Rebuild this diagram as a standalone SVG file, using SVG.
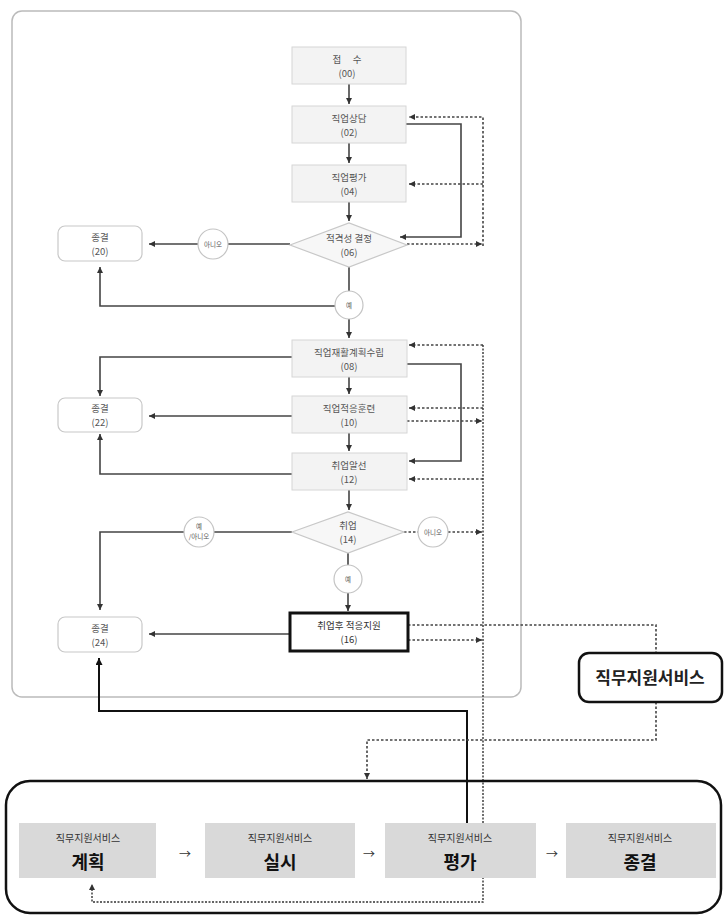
<svg xmlns="http://www.w3.org/2000/svg" width="724" height="918" viewBox="0 0 724 918">
<defs>
<marker id="ah" viewBox="0 0 6 6" refX="6" refY="3" markerWidth="6" markerHeight="6" markerUnits="userSpaceOnUse" orient="auto"><path d="M0,0 L6,3 L0,6 z" fill="#333"/></marker>
<marker id="ahb" viewBox="0 0 7 7" refX="7" refY="3.5" markerWidth="7" markerHeight="7" markerUnits="userSpaceOnUse" orient="auto"><path d="M0,0 L7,3.5 L0,7 z" fill="#111"/></marker>
</defs>
<style>
text{font-family:"Noto Sans CJK KR","Noto Sans",sans-serif;text-anchor:middle}
.box{fill:#f3f3f3;stroke:#d6d6d6;stroke-width:1}
.end{fill:#fff;stroke:#c8c8c8;stroke-width:1.2}
.dia{fill:#f7f7f7;stroke:#c8c8c8;stroke-width:1.2}
.cir{fill:#fff;stroke:#c4c4c4;stroke-width:1.2}
.t{font-size:9.5px;fill:#555}
.ts{font-size:6.5px;fill:#555}
.ln{fill:none;stroke:#444;stroke-width:1.6}
.dt{fill:none;stroke:#444;stroke-width:1.6;stroke-dasharray:2.5 2}
.lb{fill:none;stroke:#111;stroke-width:2}
.db{fill:none;stroke:#333;stroke-width:1.4;stroke-dasharray:2 1.5}
.gb{fill:#d9d9d9}
.gs{font-size:10px;fill:#333}
.gl{font-size:18px;font-weight:bold;fill:#111}
</style>
<rect x="12" y="11" width="509" height="686" rx="10" fill="#fff" stroke="#bbb" stroke-width="1.5"/>
<g id="connectors">
<path class="ln" d="M349,84 V104" marker-end="url(#ah)"/>
<path class="ln" d="M349,143 V163" marker-end="url(#ah)"/>
<path class="ln" d="M349,202 V221" marker-end="url(#ah)"/>
<path class="ln" d="M406,124 H461 V237 H400" marker-end="url(#ah)"/>
<path class="dt" d="M407,244 H482" marker-end="url(#ah)"/>
<path class="dt" d="M483,246 V117 H409" marker-end="url(#ah)"/>
<path class="dt" d="M483,184 H409" marker-end="url(#ah)"/>
<path class="ln" d="M290,244 H228"/>
<path class="ln" d="M198,244 H149" marker-end="url(#ah)"/>
<path class="ln" d="M349,267 V291"/>
<path class="ln" d="M349,319 V338" marker-end="url(#ah)"/>
<path class="ln" d="M335,306 H100 V267" marker-end="url(#ah)"/>
<path class="ln" d="M292,357 H100 V396" marker-end="url(#ah)"/>
<path class="ln" d="M292,416 H149" marker-end="url(#ah)"/>
<path class="ln" d="M292,474 H100 V434" marker-end="url(#ah)"/>
<path class="ln" d="M349,377 V394" marker-end="url(#ah)"/>
<path class="ln" d="M349,433 V451" marker-end="url(#ah)"/>
<path class="ln" d="M349,490 V510" marker-end="url(#ah)"/>
<path class="ln" d="M407,364 H461 V461 H409" marker-end="url(#ah)"/>
<path class="dt" d="M483,345 H409" marker-end="url(#ah)"/>
<path class="dt" d="M483,408 H409" marker-end="url(#ah)"/>
<path class="dt" d="M407,421 H482" marker-end="url(#ah)"/>
<path class="dt" d="M483,479 H409" marker-end="url(#ah)"/>
<path class="ln" d="M292,532 H214"/>
<path class="ln" d="M184,532 H100 V610" marker-end="url(#ah)"/>
<path class="dt" d="M404,532 H418"/>
<path class="dt" d="M448,532 H482" marker-end="url(#ah)"/>
<path class="ln" d="M348,553 V565"/>
<path class="ln" d="M348,593 V611" marker-end="url(#ah)"/>
<path class="ln" d="M290,634 H149" marker-end="url(#ah)"/>
<path class="dt" d="M408,625 H656 V653"/>
<path class="dt" d="M408,640 H482" marker-end="url(#ah)"/>
<path class="db" d="M483,345 V902 H92 V884" marker-end="url(#ah)"/>
<path class="lb" d="M467,823 V711 H99 V658" marker-end="url(#ahb)"/>
<path class="dt" d="M656,702 V740 H367 V779" marker-end="url(#ah)"/>
</g>
<g id="n00"><rect class="box" x="292" y="47" width="114" height="37"/><text class="t" x="347" y="62.5">접　 수</text><text class="t" x="347" y="76.5">(00)</text></g>
<g id="n02"><rect class="box" x="292" y="106" width="114" height="37"/><text class="t" x="349" y="121.5">직업상담</text><text class="t" x="349" y="135.5">(02)</text></g>
<g id="n04"><rect class="box" x="292" y="165" width="114" height="37"/><text class="t" x="349" y="180.5">직업평가</text><text class="t" x="349" y="194.5">(04)</text></g>
<g id="n06"><polygon class="dia" points="290,245 349,223 407,245 349,267"/><text class="t" x="349" y="242">적격성 결정</text><text class="t" x="349" y="256">(06)</text></g>
<g id="n20"><rect class="end" x="58" y="226" width="84" height="35" rx="7"/><text class="t" x="100" y="240.5">종결</text><text class="t" x="100" y="254.5">(20)</text></g>
<g id="c1"><circle class="cir" cx="213" cy="244" r="15"/><text class="ts" x="213" y="246.5">아니오</text></g>
<g id="c2"><circle class="cir" cx="349" cy="305" r="14"/><text class="ts" x="349" y="307.5">예</text></g>
<g id="n08"><rect class="box" x="292" y="340" width="115" height="37"/><text class="t" x="349" y="355.5">직업재활계획수립</text><text class="t" x="349" y="369.5">(08)</text></g>
<g id="n10"><rect class="box" x="292" y="396" width="115" height="37"/><text class="t" x="349" y="411.5">직업적응훈련</text><text class="t" x="349" y="425.5">(10)</text></g>
<g id="n12"><rect class="box" x="292" y="453" width="115" height="37"/><text class="t" x="349" y="468.5">취업알선</text><text class="t" x="349" y="482.5">(12)</text></g>
<g id="n22"><rect class="end" x="58" y="398" width="84" height="34" rx="7"/><text class="t" x="100" y="412">종결</text><text class="t" x="100" y="426">(22)</text></g>
<g id="n14"><polygon class="dia" points="292,532 348,512 404,532 348,553"/><text class="t" x="348" y="529">취업</text><text class="t" x="348" y="543">(14)</text></g>
<g id="c3"><circle class="cir" cx="199" cy="532" r="15"/><text class="ts" x="199" y="529">예</text><text class="ts" x="199" y="539">/아니오</text></g>
<g id="c4"><circle class="cir" cx="433" cy="532" r="15"/><text class="ts" x="433" y="534.5">아니오</text></g>
<g id="c5"><circle class="cir" cx="348" cy="579" r="14"/><text class="ts" x="348" y="581.5">예</text></g>
<g id="n16"><rect x="290" y="613" width="118" height="38" fill="#fff" stroke="#111" stroke-width="3"/><text class="t" x="349" y="629" style="fill:#333">취업후 적응지원</text><text class="t" x="349" y="643" style="fill:#333">(16)</text></g>
<g id="n24"><rect class="end" x="58" y="617" width="84" height="35" rx="7"/><text class="t" x="100" y="631.5">종결</text><text class="t" x="100" y="645.5">(24)</text></g>
<g id="jw"><rect x="579" y="653" width="143" height="49" rx="10" fill="#fff" stroke="#111" stroke-width="2.5"/><text x="650" y="684" style="font-size:17px;font-weight:bold;fill:#222">직무지원서비스</text></g>
<rect x="6" y="781" width="715" height="132" rx="24" fill="none" stroke="#111" stroke-width="2.5"/>
<g id="b1"><rect class="gb" x="19" y="823" width="137" height="55"/><text class="gs" x="88" y="842">직무지원서비스</text><text class="gl" x="88" y="869">계획</text></g>
<g id="b2"><rect class="gb" x="205" y="823" width="150" height="55"/><text class="gs" x="280" y="842">직무지원서비스</text><text class="gl" x="280" y="869">실시</text></g>
<g id="b3"><rect class="gb" x="385" y="823" width="151" height="55"/><text class="gs" x="460" y="842">직무지원서비스</text><text class="gl" x="460" y="869">평가</text></g>
<g id="b4"><rect class="gb" x="566" y="823" width="150" height="55"/><text class="gs" x="640" y="842">직무지원서비스</text><text class="gl" x="640" y="869">종결</text></g>
<text x="185" y="859" style="font-size:12px;fill:#333">→</text>
<text x="369" y="859" style="font-size:12px;fill:#333">→</text>
<text x="552" y="859" style="font-size:12px;fill:#333">→</text>
</svg>
